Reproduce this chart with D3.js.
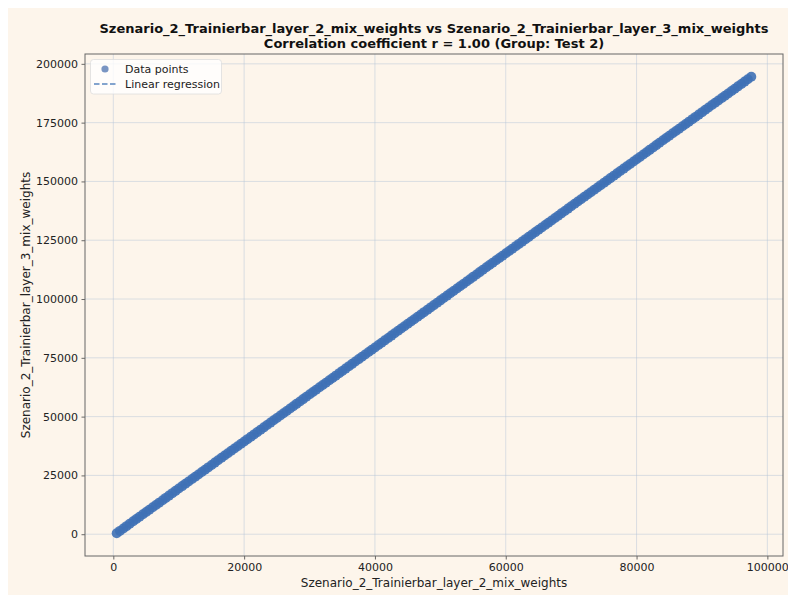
<!DOCTYPE html>
<html><head><meta charset="utf-8">
<script src="https://cdn.jsdelivr.net/npm/d3@7"></script>
<style>
html,body{margin:0;padding:0;background:#ffffff;}
svg{display:block;font-family:"DejaVu Sans",sans-serif;}
</style></head>
<body>
<script>
const titleLines = ["Szenario_2_Trainierbar_layer_2_mix_weights vs Szenario_2_Trainierbar_layer_3_mix_weights",
                    "Correlation coefficient r = 1.00 (Group: Test 2)"];
const xLabel = "Szenario_2_Trainierbar_layer_2_mix_weights";
const yLabel = "Szenario_2_Trainierbar_layer_3_mix_weights";
const legendLabels = ["Data points", "Linear regression"];
const xTicks = [0, 20000, 40000, 60000, 80000, 100000];
const yTicks = [0, 25000, 50000, 75000, 100000, 125000, 150000, 175000, 200000];

const xValues = [520,1010,1530,2020,2510,3040,3520,4010,4530,5020,5510,6030,6520,7010,7540,8020,8510,9030,9520,10010,10530,11020,11510,12040,12520,13010,13530,14020,14510,15030,15520,16010,16540,17020,17510,18030,18520,19010,19530,20020,20510,21040,21520,22010,22530,23020,23510,24030,24520,25010,25540,26020,26510,27030,27520,28010,28530,29020,29510,30040,30520,31010,31530,32020,32510,33030,33520,34010,34540,35020,35510,36030,36520,37010,37530,38020,38510,39040,39520,40010,40530,41020,41510,42030,42520,43010,43540,44020,44510,45030,45520,46010,46530,47020,47510,48040,48520,49010,49530,50020,50510,51030,51520,52010,52540,53020,53510,54030,54520,55010,55530,56020,56510,57040,57520,58010,58530,59020,59510,60030,60520,61010,61540,62020,62510,63030,63520,64010,64530,65020,65510,66040,66520,67010,67530,68020,68510,69030,69520,70010,70540,71020,71510,72030,72520,73010,73530,74020,74510,75040,75520,76010,76530,77020,77510,78030,78520,79010,79540,80020,80510,81030,81520,82010,82530,83020,83510,84040,84520,85010,85530,86020,86510,87030,87520,88010,88540,89020,89510,90030,90520,91010,91530,92020,92510,93040,93520,94010,94530,95020,95510,96030,96520,97010,97540];
const yValues = [440,1420,2460,3440,4420,5480,6440,7420,8460,9440,10420,11460,12440,13420,14480,15440,16420,17460,18440,19420,20460,21440,22420,23480,24440,25420,26460,27440,28420,29460,30440,31420,32480,33440,34420,35460,36440,37420,38460,39440,40420,41480,42440,43420,44460,45440,46420,47460,48440,49420,50480,51440,52420,53460,54440,55420,56460,57440,58420,59480,60440,61420,62460,63440,64420,65460,66440,67420,68480,69440,70420,71460,72440,73420,74460,75440,76420,77480,78440,79420,80460,81440,82420,83460,84440,85420,86480,87440,88420,89460,90440,91420,92460,93440,94420,95480,96440,97420,98460,99440,100420,101460,102440,103420,104480,105440,106420,107460,108440,109420,110460,111440,112420,113480,114440,115420,116460,117440,118420,119460,120440,121420,122480,123440,124420,125460,126440,127420,128460,129440,130420,131480,132440,133420,134460,135440,136420,137460,138440,139420,140480,141440,142420,143460,144440,145420,146460,147440,148420,149480,150440,151420,152460,153440,154420,155460,156440,157420,158480,159440,160420,161460,162440,163420,164460,165440,166420,167480,168440,169420,170460,171440,172420,173460,174440,175420,176480,177440,178420,179460,180440,181420,182460,183440,184420,185480,186440,187420,188460,189440,190420,191460,192440,193420,194480];

const W = 788, H = 595;
const bg = "#fdf5eb";
const pointColor = "#4C72B0";
const bandColor = "#3f71b6";
const plot = {left: 85, top: 54, right: 783, bottom: 556};

const n = Math.min(xValues.length, yValues.length);
const pts = d3.range(n).map(i => ({x: xValues[i], y: yValues[i]}));

const xExt = d3.extent(xValues), yExt = d3.extent(yValues);
const xPad = (xExt[1]-xExt[0])*0.05, yPad = (yExt[1]-yExt[0])*0.05;
const x = d3.scaleLinear().domain([xExt[0]-xPad, xExt[1]+xPad]).range([plot.left, plot.right]);
const y = d3.scaleLinear().domain([yExt[0]-yPad, yExt[1]+yPad]).range([plot.bottom, plot.top]);

// regression
const mx = d3.mean(xValues.slice(0,n)), my = d3.mean(yValues.slice(0,n));
let sxy = 0, sxx = 0;
for (const p of pts) { sxy += (p.x-mx)*(p.y-my); sxx += (p.x-mx)*(p.x-mx); }
const slope = sxy/sxx, intercept = my - slope*mx;

const svg = d3.select("body").append("svg").attr("width", W).attr("height", H);
svg.append("rect").attr("x", 8).attr("y", 8).attr("width", W-8).attr("height", H-8).attr("fill", bg);
svg.append("rect").attr("x", plot.left).attr("y", plot.top)
  .attr("width", plot.right-plot.left).attr("height", plot.bottom-plot.top).attr("fill", bg);

// grid
const grid = svg.append("g").attr("stroke", "#b4c3d6").attr("stroke-opacity", 0.6).attr("stroke-width", 0.8);
grid.selectAll(".gx").data(xTicks).join("line")
  .attr("x1", d => x(d)).attr("x2", d => x(d)).attr("y1", plot.top).attr("y2", plot.bottom);
grid.selectAll(".gy").data(yTicks).join("line")
  .attr("y1", d => y(d)).attr("y2", d => y(d)).attr("x1", plot.left).attr("x2", plot.right);

// points
svg.append("g").selectAll("circle").data(pts).join("circle")
  .attr("cx", d => x(d.x)).attr("cy", d => y(d.y)).attr("r", 5)
  .attr("fill", bandColor).attr("fill-opacity", 0.9);

// regression line
svg.append("line")
  .attr("x1", x(xExt[0])).attr("y1", y(intercept + slope*xExt[0]))
  .attr("x2", x(xExt[1])).attr("y2", y(intercept + slope*xExt[1]))
  .attr("stroke", bandColor).attr("stroke-width", 1.5).attr("stroke-dasharray", "5.5,2.5");

// axes
const xAxis = d3.axisBottom(x).tickValues(xTicks).tickFormat(d3.format("d")).tickSizeOuter(0).tickSize(3.5).tickPadding(3.5);
const yAxis = d3.axisLeft(y).tickValues(yTicks).tickFormat(d3.format("d")).tickSizeOuter(0).tickSize(3.5).tickPadding(3.5);
const gx = svg.append("g").attr("transform", `translate(0,${plot.bottom})`).call(xAxis);
const gy = svg.append("g").attr("transform", `translate(${plot.left},0)`).call(yAxis);
[gx, gy].forEach(g => {
  g.select(".domain").remove();
  g.selectAll("line").attr("stroke", "#444").attr("stroke-width", 0.8);
  g.selectAll("text").attr("fill", "#222").style("font-size", "11px").style("font-family", "DejaVu Sans");
});

// spines
svg.append("rect").attr("x", plot.left).attr("y", plot.top)
  .attr("width", plot.right-plot.left).attr("height", plot.bottom-plot.top)
  .attr("fill", "none").attr("stroke", "#666").attr("stroke-width", 1);

// title
const cx = (plot.left+plot.right)/2;
svg.append("text").attr("x", cx).attr("y", 33).attr("text-anchor", "middle")
  .style("font-size", "13px").style("font-weight", "bold").attr("fill", "#111").text(titleLines[0]);
svg.append("text").attr("x", cx).attr("y", 48).attr("text-anchor", "middle")
  .style("font-size", "13px").style("font-weight", "bold").attr("fill", "#111").text(titleLines[1]);

// axis labels
svg.append("text").attr("x", cx).attr("y", 587).attr("text-anchor", "middle")
  .style("font-size", "12px").attr("fill", "#222").text(xLabel);
svg.append("text").attr("transform", `translate(30,${(plot.top+plot.bottom)/2}) rotate(-90)`)
  .attr("text-anchor", "middle").style("font-size", "12px").attr("fill", "#222").text(yLabel);

// legend
const lg = svg.append("g");
lg.append("rect").attr("x", 90.5).attr("y", 59.5).attr("width", 131).attr("height", 34.5).attr("rx", 3)
  .attr("fill", "#ffffff").attr("fill-opacity", 0.8).attr("stroke", "#dddddd").attr("stroke-width", 0.8);
lg.append("circle").attr("cx", 105).attr("cy", 69).attr("r", 3.6).attr("fill", pointColor).attr("fill-opacity", 0.75);
lg.append("line").attr("x1", 94).attr("x2", 116).attr("y1", 84).attr("y2", 84)
  .attr("stroke", "#5b86c0").attr("stroke-width", 1.5).attr("stroke-dasharray", "5.5,2.5");
lg.append("text").attr("x", 125).attr("y", 72.5).style("font-size", "11px").attr("fill", "#222").text(legendLabels[0]);
lg.append("text").attr("x", 125).attr("y", 87.5).style("font-size", "11px").attr("fill", "#222").text(legendLabels[1]);
</script>
</body></html>
